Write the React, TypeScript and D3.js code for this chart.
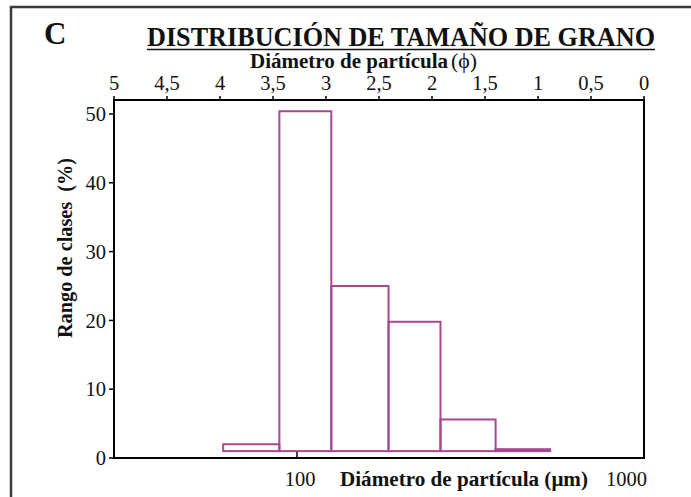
import React from "react";
import * as d3 from "d3";

// ---- data ----
const phiTicks: number[] = [5, 4.5, 4, 3.5, 3, 2.5, 2, 1.5, 1, 0.5, 0];
const yTicks: number[] = [0, 10, 20, 30, 40, 50];
// class boundaries (phi), left to right
const binEdgesPhi: number[] = [3.97, 3.44, 2.95, 2.41, 1.92, 1.4, 0.885];
// class percentage (top of each bar)
const binValues: number[] = [2.0, 50.4, 25.0, 19.8, 5.6, 1.28];
const barBase = 1.0;
const umTicks: number[] = [100];
const umLabels: string[] = ["100", "1000"];

const W = 691;
const H = 497;
const fontFamily = "'Liberation Serif', 'Times New Roman', serif";
const purple = "#a8488f";

export default function App() {
  const left = 114;
  const right = 644;
  const top = 100;
  const bottom = 458;

  const x = d3.scaleLinear().domain([5, 0]).range([left, right]);
  const y = d3.scaleLinear().domain([0, 50]).range([bottom, 114]);
  const xUm = d3.scaleLog().domain([100, 1000]).range([297, right]);

  const fmt = (v: number) => String(v).replace(".", ",");

  const bars = binValues.map((v, i) => ({
    x0: x(binEdgesPhi[i]),
    x1: x(binEdgesPhi[i + 1]),
    v,
  }));

  return (
    <svg
      width={W}
      height={H}
      style={{ position: "absolute", left: 0, top: 0, background: "#fff" }}
      fontFamily={fontFamily}
    >
      <rect x={0} y={0} width={W} height={H} fill="#fff" />
      {/* outer frame */}
      <rect x={11} y={7} width={W + 20} height={H + 20} fill="none" stroke="#3a3a3a" strokeWidth={2.5} />

      {/* panel letter */}
      <text x={44} y={44} fontSize={31} fontWeight="bold" fill="#111">C</text>

      {/* title */}
      <text
        x={147}
        y={45.5}
        fontSize={27}
        fontWeight="bold"
        fill="#111"
        textLength={508}
        lengthAdjust="spacingAndGlyphs"
      >
        DISTRIBUCIÓN DE TAMAÑO DE GRANO
      </text>
      <line x1={147} x2={655} y1={49.5} y2={49.5} stroke="#111" strokeWidth={1.6} />

      {/* top axis title */}
      <text x={250} y={68} fontSize={20.5} fontWeight="bold" fill="#111" textLength={198} lengthAdjust="spacingAndGlyphs">
        Diámetro de partícula
      </text>
      <text x={451} y={68} fontSize={20.5} fill="#111" textLength={26} lengthAdjust="spacingAndGlyphs">
        (ϕ)
      </text>

      {/* bars */}
      {bars.map((b, i) => (
        <rect
          key={i}
          x={b.x0}
          y={y(b.v)}
          width={b.x1 - b.x0}
          height={y(barBase) - y(b.v)}
          fill="none"
          stroke={purple}
          strokeWidth={2}
        />
      ))}

      {/* plot frame */}
      <rect x={left} y={top} width={right - left} height={bottom - top} fill="none" stroke="#000" strokeWidth={2} />

      {/* top phi axis */}
      {phiTicks.map((t) => (
        <g key={t}>
          <line x1={x(t)} x2={x(t)} y1={top} y2={top - 4} stroke="#000" strokeWidth={1.5} />
          <text x={x(t)} y={90} fontSize={20.5} textAnchor="middle" fill="#111">
            {fmt(t)}
          </text>
        </g>
      ))}

      {/* left y axis */}
      {yTicks.map((t) => (
        <g key={t}>
          <line x1={left} x2={left - 5} y1={y(t)} y2={y(t)} stroke="#000" strokeWidth={1.5} />
          <text x={106} y={y(t)} dy="0.35em" fontSize={20.5} textAnchor="end" fill="#111">
            {t}
          </text>
        </g>
      ))}
      <text
        transform={`translate(72, 248) rotate(-90)`}
        fontSize={20.5}
        fontWeight="bold"
        textAnchor="middle"
        fill="#111"
        textLength={180}
        lengthAdjust="spacingAndGlyphs"
      >
        {"Rango de clases\u00a0 (%)"}
      </text>

      {/* bottom um axis */}
      {umTicks.map((t) => (
        <line key={t} x1={xUm(t)} x2={xUm(t)} y1={bottom} y2={bottom - 6} stroke="#000" strokeWidth={1.5} />
      ))}
      <text x={xUm(100) + 3} y={486} fontSize={20.5} textAnchor="middle" fill="#111">
        {umLabels[0]}
      </text>
      <text x={xUm(1000) + 3} y={486} fontSize={20.5} textAnchor="end" fill="#111">
        {umLabels[1]}
      </text>
      <text x={340} y={486} fontSize={20.5} fontWeight="bold" fill="#111" textLength={248} lengthAdjust="spacingAndGlyphs">
        Diámetro de partícula (μm)
      </text>
    </svg>
  );
}
